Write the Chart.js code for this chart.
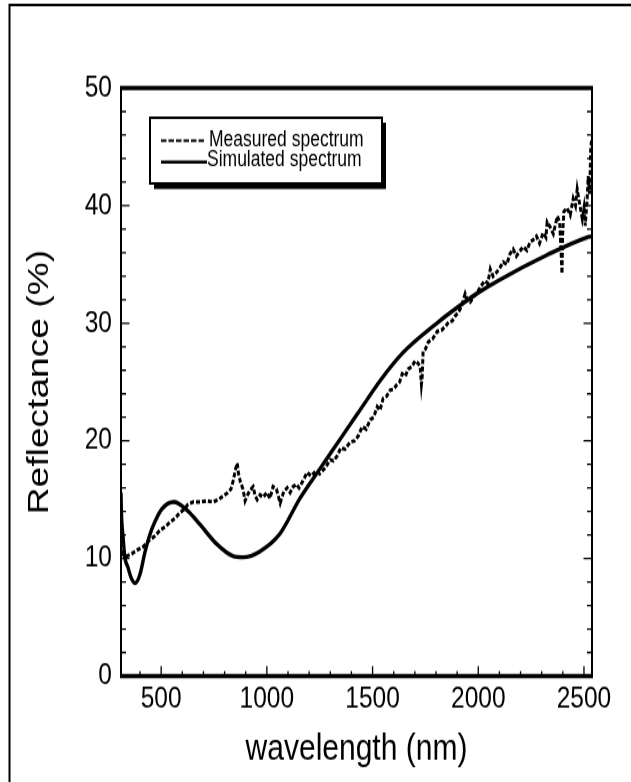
<!DOCTYPE html>
<html>
<head>
<meta charset="utf-8">
<title>Reflectance spectrum</title>
<script src="https://cdn.jsdelivr.net/npm/chart.js@4/dist/chart.umd.min.js"></script>
<style>
  html, body { margin: 0; padding: 0; background: #fff; }
  #chart { display: block; }
</style>
</head>
<body>
<!-- the figure is drawn on a square canvas and shown stretched vertically -->
<canvas id="chart" width="631" height="631" style="width:631px;height:782px"></canvas>
<script>
// Measured reflectance (nm, %)
const measuredWavelength = [
  312, 322, 338, 360, 386, 415, 447, 470, 495, 520, 542, 565, 589, 610, 627, 651, 684, 715, 745, 770,
  793, 815, 830, 842, 852, 860, 866, 875, 887, 897, 906, 920, 935, 945, 954, 968, 982, 1000, 1015, 1029,
  1045, 1063, 1080, 1096, 1110, 1124, 1140, 1152, 1171, 1190, 1210, 1230, 1250, 1276, 1299, 1315, 1332, 1350, 1370, 1394,
  1415, 1432, 1451, 1470, 1489, 1505, 1522, 1535, 1550, 1567, 1583, 1600, 1616, 1628, 1640, 1655, 1668, 1685, 1701, 1715,
  1725, 1731, 1735, 1739, 1750, 1763, 1785, 1806, 1825, 1844, 1860, 1877, 1890, 1905, 1920, 1938, 1950, 1962, 1980, 1995,
  2010, 2030, 2045, 2057, 2070, 2090, 2105, 2118, 2135, 2150, 2165, 2180, 2195, 2213, 2230, 2245, 2260, 2275, 2290, 2307,
  2320, 2326, 2340, 2355, 2365, 2374, 2385, 2392, 2396, 2399, 2405, 2420, 2435, 2449, 2460, 2468, 2478, 2492, 2500, 2506,
  2515, 2520, 2527, 2532, 2536
];
const measuredReflectance = [
  10.6, 10.3, 10.2, 10.4, 10.7, 11.0, 11.6, 11.9, 12.4, 12.7, 13.1, 13.4, 13.9, 14.2, 14.6, 14.8, 14.8, 14.9, 14.8, 15.0,
  15.3, 15.6, 15.9, 16.7, 17.6, 18.1, 17.2, 16.5, 15.9, 14.9, 15.3, 15.8, 16.1, 15.3, 15.0, 15.4, 15.2, 15.6, 15.1, 16.1,
  15.9, 14.7, 15.7, 16.0, 15.6, 16.1, 16.3, 16.0, 16.6, 17.3, 17.0, 17.4, 17.2, 17.7, 18.4, 18.3, 18.7, 19.4, 19.3, 19.9,
  20.0, 20.4, 21.2, 21.0, 21.8, 22.0, 22.9, 22.6, 23.6, 23.8, 24.3, 24.4, 24.8, 25.0, 25.7, 25.5, 26.1, 26.3, 26.8, 26.6,
  26.3, 24.8, 25.5, 27.6, 27.8, 28.4, 28.7, 29.3, 29.4, 29.7, 30.1, 30.2, 30.6, 30.9, 31.4, 32.5, 31.9, 31.8, 32.3, 32.6,
  33.1, 33.6, 33.4, 34.6, 34.0, 34.4, 34.8, 35.2, 35.0, 35.9, 36.3, 35.7, 36.1, 36.5, 36.2, 36.9, 37.1, 37.4, 36.8, 37.7,
  37.3, 38.6, 38.2, 37.6, 38.4, 39.1, 38.6, 36.0, 34.2, 37.5, 39.5, 39.8, 39.2, 40.6, 40.0, 41.4, 40.3, 38.9, 39.8, 38.3,
  40.5, 42.5, 41.0, 44.8, 45.6
];

// Simulated reflectance (nm, %)
const simulatedWavelength = [
  310, 312, 320, 328, 342, 357, 376, 399, 423, 446, 470, 503, 560, 622, 683, 764, 839, 887, 967, 1062,
  1156, 1250, 1345, 1440, 1535, 1644, 1804, 1913, 2000, 2102, 2325, 2514, 2538
];
const simulatedReflectance = [
  15.6, 13.9, 11.8, 10.1, 9.3, 8.4, 7.9, 8.6, 10.5, 12.0, 13.1, 14.2, 14.8, 14.1, 12.9, 11.2, 10.2, 10.1, 10.6, 12.1,
  15.1, 17.6, 20.1, 22.6, 25.1, 27.5, 30.0, 31.5, 32.6, 33.7, 35.8, 37.3, 37.4
];

const seriesNames = ['Measured spectrum', 'Simulated spectrum'];
const xTickValues = [500, 1000, 1500, 2000, 2500];
const yTickValues = [0, 10, 20, 30, 40, 50];
const xTitle = 'wavelength (nm)';
const yTitle = 'Reflectance (%)';

const FONT = '"Liberation Sans", Arial, Helvetica, sans-serif';

function toPoints(xs, ys) {
  return xs.map((x, i) => ({ x: x, y: ys[i] }));
}

// Frame, axis rules, inward tick marks and the boxed legend
const figureDecor = {
  id: 'figureDecor',
  beforeDraw(chart) {
    const c = chart.ctx;
    c.save();
    c.fillStyle = '#fff';
    c.fillRect(0, 0, chart.width, chart.height);
    c.strokeStyle = '#000';
    c.lineWidth = 2;
    c.beginPath();
    c.moveTo(9.5, chart.height + 10);
    c.lineTo(9.5, 4);
    c.lineTo(chart.width + 10, 4);
    c.stroke();
    c.restore();
  },
  afterDatasetsDraw(chart) {
    const c = chart.ctx;
    const a = chart.chartArea;
    const xs = chart.scales.x;
    const ys = chart.scales.y;
    c.save();
    c.strokeStyle = '#000';

    // tick marks pointing into the plot
    c.lineWidth = 1.3;
    c.beginPath();
    for (let v = 0; v <= 50; v += 2) {
      const py = ys.getPixelForValue(v);
      const len = v % 10 === 0 ? 8.5 : 5;
      c.moveTo(a.left, py); c.lineTo(a.left + len, py);
      c.moveTo(a.right, py); c.lineTo(a.right - len, py);
    }
    for (let w = 400; w <= 2500; w += 100) {
      const px = xs.getPixelForValue(w);
      const len = w % 500 === 0 ? 8 : 4;
      c.moveTo(px, a.bottom); c.lineTo(px, a.bottom - len);
    }
    c.stroke();

    // side axes
    c.lineWidth = 2;
    c.beginPath();
    c.moveTo(a.left, a.top); c.lineTo(a.left, a.bottom);
    c.moveTo(a.right, a.top); c.lineTo(a.right, a.bottom);
    c.stroke();

    // heavy top and bottom rules
    c.lineWidth = 3.3;
    c.beginPath();
    c.moveTo(a.left - 1, a.top); c.lineTo(a.right + 1, a.top);
    c.moveTo(a.left - 1, a.bottom); c.lineTo(a.right + 1, a.bottom);
    c.stroke();

    // legend box with drop shadow
    const box = { l: 150, t: 95, r: 382, b: 148 };
    c.fillStyle = '#000';
    c.fillRect(box.l + 4, box.t + 4, box.r - box.l, box.b - box.t + 0.5);
    c.fillStyle = '#fff';
    c.fillRect(box.l, box.t, box.r - box.l, box.b - box.t);
    c.lineWidth = 2;
    c.strokeRect(box.l, box.t, box.r - box.l, box.b - box.t);

    const ds = chart.data.datasets;
    // measured sample
    c.lineWidth = 2;
    c.setLineDash([5.5, 2]);
    c.beginPath();
    c.moveTo(161, 113.6); c.lineTo(206, 113.6);
    c.stroke();
    // simulated sample
    c.setLineDash([]);
    c.lineWidth = 2.6;
    c.beginPath();
    c.moveTo(161, 130.8); c.lineTo(207, 130.8);
    c.stroke();

    c.fillStyle = '#000';
    c.font = '17.5px ' + FONT;
    c.textAlign = 'left';
    c.textBaseline = 'alphabetic';
    c.fillText(ds[0].label, 209, 118);
    c.fillText(ds[1].label, 207, 134);
    c.restore();
  }
};

new Chart(document.getElementById('chart'), {
  type: 'line',
  data: {
    datasets: [
      {
        label: seriesNames[0],
        data: toPoints(measuredWavelength, measuredReflectance),
        borderColor: '#000',
        borderWidth: 3,
        borderDash: [4, 2],
        pointRadius: 0,
        tension: 0,
        fill: false
      },
      {
        label: seriesNames[1],
        data: toPoints(simulatedWavelength, simulatedReflectance),
        borderColor: '#000',
        borderWidth: 3.4,
        pointRadius: 0,
        cubicInterpolationMode: 'monotone',
        fill: false
      }
    ]
  },
  options: {
    responsive: false,
    animation: false,
    devicePixelRatio: 1,
    layout: { padding: { left: 10, right: 39, top: 71, bottom: 0 } },
    plugins: { legend: { display: false }, tooltip: { enabled: false } },
    scales: {
      x: {
        type: 'linear',
        min: 310,
        max: 2538,
        border: { display: false },
        grid: { display: false, drawTicks: false },
        afterBuildTicks: s => { s.ticks = xTickValues.map(v => ({ value: v })); },
        afterFit: s => { s.height = 85.5; },
        ticks: {
          padding: 4,
          color: '#000',
          autoSkip: false,
          maxRotation: 0,
          font: { family: FONT, size: 24.5 },
          callback: v => String(v)
        },
        title: {
          display: true,
          text: xTitle,
          color: '#000',
          font: { family: FONT, size: 30 },
          padding: { top: 0, bottom: 8 }
        }
      },
      y: {
        type: 'linear',
        min: 0,
        max: 50,
        border: { display: false },
        grid: { display: false, drawTicks: false },
        afterBuildTicks: s => { s.ticks = yTickValues.map(v => ({ value: v })); },
        afterFit: s => { s.width = 111; },
        ticks: {
          padding: 9,
          color: '#000',
          autoSkip: false,
          font: { family: FONT, size: 24.5 },
          callback: v => String(v)
        },
        title: {
          display: true,
          text: yTitle,
          color: '#000',
          font: { family: FONT, size: 30 },
          padding: { top: 12, bottom: 0 }
        }
      }
    }
  },
  plugins: [figureDecor]
});
</script>
</body>
</html>
